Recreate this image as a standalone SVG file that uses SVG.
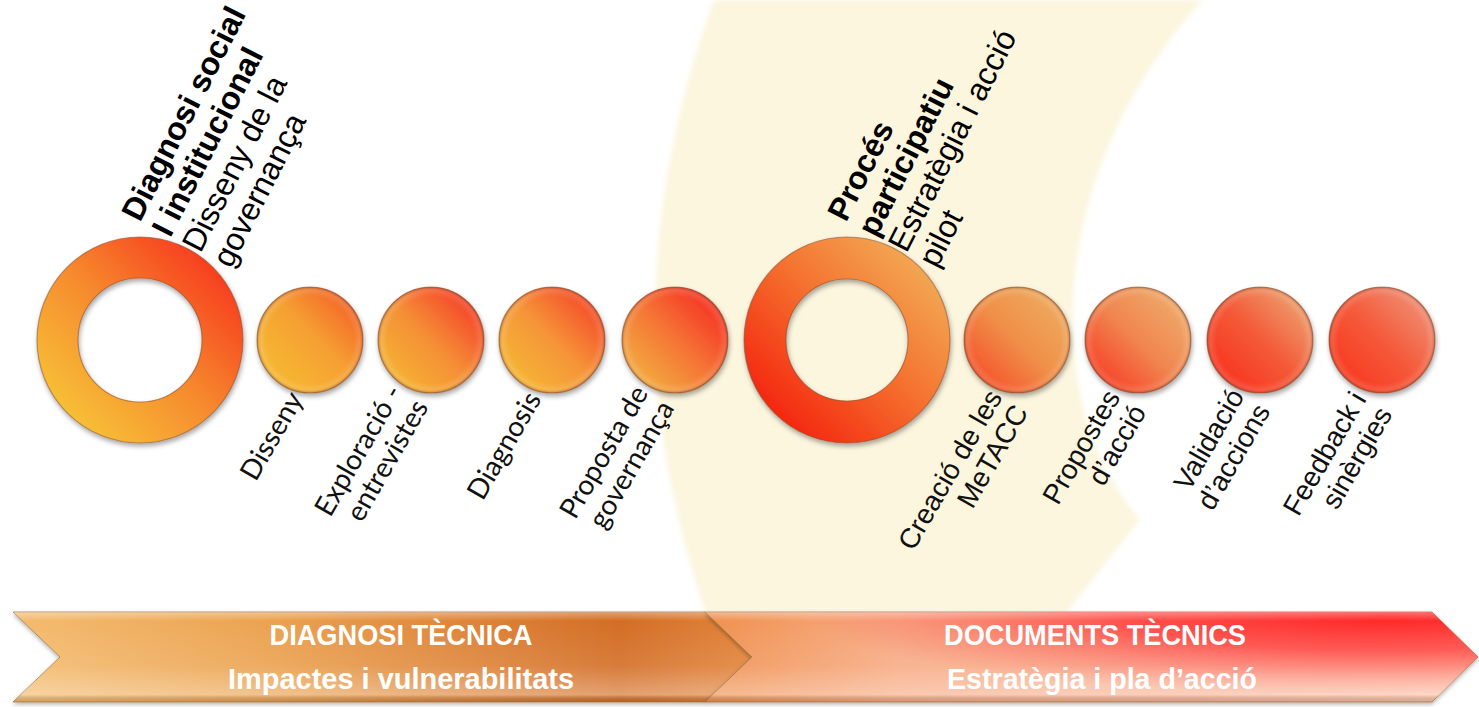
<svg xmlns="http://www.w3.org/2000/svg" width="1479" height="707" viewBox="0 0 1479 707">
<style>
.top{font-family:"Liberation Sans",Arial,sans-serif;font-size:32px;fill:#000}
.b{font-weight:bold}
.lab1{font-family:Lato,"Open Sans",sans-serif;font-size:28px;fill:#111;text-anchor:end}
.lab2{font-family:"Liberation Sans",Arial,sans-serif;font-size:28px;fill:#111;text-anchor:end}
.bar{font-family:"Liberation Sans Narrow","Liberation Sans",Arial,sans-serif;font-weight:bold;font-size:30px;fill:#fff;text-anchor:middle}
.rim{stroke:#8a5030;stroke-opacity:.55;stroke-width:1.2}
.chev{stroke:#a0703c;stroke-opacity:.7;stroke-width:1}
</style>
<defs>
<filter id="sh" x="-20%" y="-20%" width="140%" height="150%"><feDropShadow dx="1" dy="3" stdDeviation="2.5" flood-color="#000" flood-opacity="0.35"/></filter>
<filter id="shc" x="-5%" y="-20%" width="110%" height="150%"><feDropShadow dx="0" dy="2" stdDeviation="2" flood-color="#000" flood-opacity="0.3"/></filter>
<filter id="soft"><feGaussianBlur stdDeviation="2.5"/></filter>
<radialGradient id="bevel" cx="0.5" cy="0.5" r="0.5">
<stop offset="0.82" stop-color="#fff" stop-opacity="0"/>
<stop offset="0.93" stop-color="#fff" stop-opacity="0.12"/>
<stop offset="1" stop-color="#6a2a08" stop-opacity="0.35"/>
</radialGradient>
<linearGradient id="gR1" x1="0.15" y1="0.85" x2="0.85" y2="0.15"><stop offset="0" stop-color="#F7BE36"/><stop offset="0.5" stop-color="#F68A2E"/><stop offset="1" stop-color="#F7401F"/></linearGradient>
<linearGradient id="g2" x1="0.15" y1="0.85" x2="0.85" y2="0.15"><stop offset="0" stop-color="#F6B833"/><stop offset="0.55" stop-color="#F5A031"/><stop offset="1" stop-color="#F4682A"/></linearGradient>
<linearGradient id="g3" x1="0.15" y1="0.85" x2="0.85" y2="0.15"><stop offset="0" stop-color="#F5B233"/><stop offset="0.5" stop-color="#F58E35"/><stop offset="1" stop-color="#F5452A"/></linearGradient>
<linearGradient id="g4" x1="0.15" y1="0.85" x2="0.85" y2="0.15"><stop offset="0" stop-color="#F5B535"/><stop offset="0.5" stop-color="#F59538"/><stop offset="1" stop-color="#F54E2A"/></linearGradient>
<linearGradient id="g5" x1="0.15" y1="0.85" x2="0.85" y2="0.15"><stop offset="0" stop-color="#F2AA40"/><stop offset="0.5" stop-color="#F57535"/><stop offset="1" stop-color="#F53525"/></linearGradient>
<linearGradient id="gR2" x1="0.15" y1="0.85" x2="0.85" y2="0.15"><stop offset="0" stop-color="#F42810"/><stop offset="0.55" stop-color="#F5722F"/><stop offset="1" stop-color="#F2A552"/></linearGradient>
<linearGradient id="g6" x1="0.15" y1="0.85" x2="0.85" y2="0.15"><stop offset="0" stop-color="#F5562C"/><stop offset="0.5" stop-color="#F08F48"/><stop offset="1" stop-color="#EEA95E"/></linearGradient>
<linearGradient id="g7" x1="0.15" y1="0.85" x2="0.85" y2="0.15"><stop offset="0" stop-color="#F64428"/><stop offset="0.5" stop-color="#F18650"/><stop offset="1" stop-color="#EEA868"/></linearGradient>
<linearGradient id="g8" x1="0.15" y1="0.85" x2="0.85" y2="0.15"><stop offset="0" stop-color="#F83520"/><stop offset="0.5" stop-color="#F45A38"/><stop offset="1" stop-color="#EE9A6A"/></linearGradient>
<linearGradient id="g9" x1="0.15" y1="0.85" x2="0.85" y2="0.15"><stop offset="0" stop-color="#F83A22"/><stop offset="0.5" stop-color="#F55A3A"/><stop offset="1" stop-color="#F08A70"/></linearGradient>
<linearGradient id="c1" x1="0" y1="0" x2="1" y2="0"><stop offset="0" stop-color="#F4BC70"/><stop offset="0.35" stop-color="#EBA250"/><stop offset="0.82" stop-color="#D36D26"/><stop offset="1" stop-color="#E2843A"/></linearGradient>
<linearGradient id="c2" x1="0" y1="0" x2="1" y2="0"><stop offset="0" stop-color="#F0914F"/><stop offset="0.25" stop-color="#F7AC85"/><stop offset="0.7" stop-color="#FAB79C"/><stop offset="1" stop-color="#FCC4A6"/></linearGradient>
<linearGradient id="vov" x1="0" y1="0" x2="0" y2="1"><stop offset="0" stop-color="#fff" stop-opacity="0.35"/><stop offset="0.1" stop-color="#fff" stop-opacity="0"/><stop offset="0.6" stop-color="#fff" stop-opacity="0.1"/><stop offset="0.92" stop-color="#fff" stop-opacity="0.35"/><stop offset="1" stop-color="#000" stop-opacity="0.1"/></linearGradient>
<radialGradient id="red" gradientUnits="userSpaceOnUse" cx="0" cy="0" r="1" gradientTransform="translate(1390 615) scale(580 80)"><stop offset="0" stop-color="#FF2222" stop-opacity="1"/><stop offset="0.45" stop-color="#FF3535" stop-opacity="0.8"/><stop offset="1" stop-color="#FF5050" stop-opacity="0"/></radialGradient>
</defs>
<rect width="1479" height="707" fill="#fff"/>
<g id="background">
<path d="M714,0 L1203,0 C1125,85 1072,200 1073,320 C1074,420 1105,475 1140,520 L1067,612 L705,612 C668,500 652,400 655,300 C658,190 682,85 714,0 Z" fill="#FCF6DF" filter="url(#soft)"/>
</g>
<g id="connectors"></g>
<g id="bar-diagnosi">
<path class="chev" d="M13,612 L705,612 L752,657 L705,702 L13,702 L60,657 Z" fill="url(#c1)" filter="url(#shc)"/>
<path d="M13,612 L705,612 L752,657 L705,702 L13,702 L60,657 Z" fill="url(#vov)"/>
<text class="bar" x="401" y="645" textLength="263" lengthAdjust="spacingAndGlyphs">DIAGNOSI TÈCNICA</text>
<text class="bar" x="401" y="689" textLength="346" lengthAdjust="spacingAndGlyphs">Impactes i vulnerabilitats</text>
</g>
<g id="bar-documents">
<path class="chev" d="M705,612 L1432,612 L1478,657 L1432,702 L705,702 L752,657 Z" fill="url(#c2)" filter="url(#shc)"/>
<path d="M705,612 L1432,612 L1478,657 L1432,702 L705,702 L752,657 Z" fill="url(#red)"/>
<path d="M705,612 L1432,612 L1478,657 L1432,702 L705,702 L752,657 Z" fill="url(#vov)"/>
<text class="bar" x="1095" y="645" textLength="302" lengthAdjust="spacingAndGlyphs">DOCUMENTS TÈCNICS</text>
<text class="bar" x="1102" y="689" textLength="310" lengthAdjust="spacingAndGlyphs">Estratègia i pla d’acció</text>
</g>
<g id="ring-diagnosi-social">
<path class="rim" fill-rule="evenodd" fill="url(#gR1)" filter="url(#sh)" d="M37,340 a103,103 0 1,0 206,0 a103,103 0 1,0 -206,0 Z M78,340 a62,62 0 1,1 124,0 a62,62 0 1,1 -124,0 Z"/>
<text class="top" transform="translate(140,223) rotate(-63)"><tspan class="b" x="0" y="0">Diagnosi social</tspan><tspan class="b" x="0" y="34">I institucional</tspan><tspan x="0" y="68">Disseny de la</tspan><tspan x="0" y="102">governança</tspan></text>
</g>
<g id="node-disseny">
<circle class="rim" cx="310" cy="340" r="53" fill="url(#g2)" filter="url(#sh)"/>
<circle cx="310" cy="340" r="53" fill="url(#bevel)"/>
<text class="lab1" transform="translate(304,399) rotate(-60)">Disseny</text>
</g>
<g id="node-exploracio">
<circle class="rim" cx="431" cy="340" r="53" fill="url(#g3)" filter="url(#sh)"/>
<circle cx="431" cy="340" r="53" fill="url(#bevel)"/>
<text class="lab1" transform="translate(403,392) rotate(-60)"><tspan x="0" y="0">Exploració -</tspan><tspan x="0" y="30">entrevistes</tspan></text>
</g>
<g id="node-diagnosis">
<circle class="rim" cx="552" cy="340" r="53" fill="url(#g4)" filter="url(#sh)"/>
<circle cx="552" cy="340" r="53" fill="url(#bevel)"/>
<text class="lab1" transform="translate(542,399) rotate(-60)">Diagnosis</text>
</g>
<g id="node-proposta">
<circle class="rim" cx="675" cy="340" r="53" fill="url(#g5)" filter="url(#sh)"/>
<circle cx="675" cy="340" r="53" fill="url(#bevel)"/>
<text class="lab1" transform="translate(649,393) rotate(-60)"><tspan x="0" y="0">Proposta de</tspan><tspan x="0" y="30">governança</tspan></text>
</g>
<g id="ring-proces-participatiu">
<path class="rim" fill-rule="evenodd" fill="url(#gR2)" filter="url(#sh)" d="M744,340 a103,103 0 1,0 206,0 a103,103 0 1,0 -206,0 Z M786,340 a61,61 0 1,1 122,0 a61,61 0 1,1 -122,0 Z"/>
<text class="top" transform="translate(846,223) rotate(-63)"><tspan class="b" x="0" y="0">Procés</tspan><tspan class="b" x="0" y="34">participatiu</tspan><tspan x="0" y="68">Estratègia i acció</tspan><tspan x="0" y="102">pilot</tspan></text>
</g>
<g id="node-creacio">
<circle class="rim" cx="1017" cy="340" r="53" fill="url(#g6)" filter="url(#sh)"/>
<circle cx="1017" cy="340" r="53" fill="url(#bevel)"/>
<text class="lab2" transform="translate(1003,397) rotate(-60)"><tspan x="0" y="0">Creació de les</tspan><tspan x="0" y="30">MeTACC</tspan></text>
</g>
<g id="node-propostes">
<circle class="rim" cx="1138" cy="340" r="53" fill="url(#g7)" filter="url(#sh)"/>
<circle cx="1138" cy="340" r="53" fill="url(#bevel)"/>
<text class="lab2" transform="translate(1121,397) rotate(-60)"><tspan x="0" y="0">Propostes</tspan><tspan x="0" y="30">d’acció</tspan></text>
</g>
<g id="node-validacio">
<circle class="rim" cx="1260" cy="340" r="53" fill="url(#g8)" filter="url(#sh)"/>
<circle cx="1260" cy="340" r="53" fill="url(#bevel)"/>
<text class="lab2" transform="translate(1245,396) rotate(-60)"><tspan x="0" y="0">Validació</tspan><tspan x="0" y="30">d’accions</tspan></text>
</g>
<g id="node-feedback">
<circle class="rim" cx="1382" cy="340" r="53" fill="url(#g9)" filter="url(#sh)"/>
<circle cx="1382" cy="340" r="53" fill="url(#bevel)"/>
<text class="lab2" transform="translate(1367,399) rotate(-60)"><tspan x="0" y="0">Feedback i</tspan><tspan x="0" y="30">sinèrgies</tspan></text>
</g>
</svg>
